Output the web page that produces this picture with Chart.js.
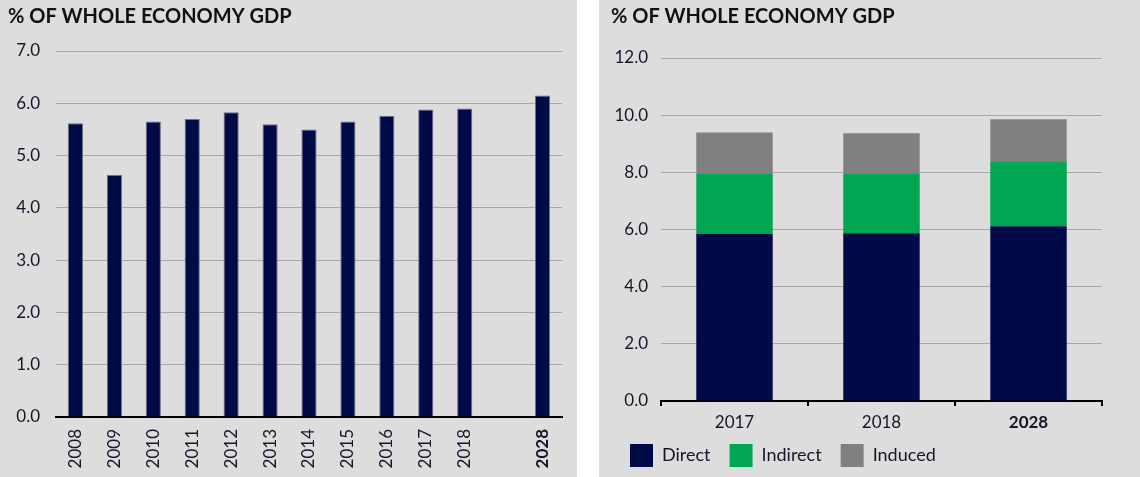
<!DOCTYPE html>
<html>
<head>
<meta charset="utf-8">
<script src="https://cdn.jsdelivr.net/npm/chart.js@4"></script>
<style>
  html, body { margin: 0; padding: 0; background: #fff; }
  body { width: 1140px; height: 477px; position: relative; overflow: hidden; }
  .panel { position: absolute; top: 0; height: 477px; background: #dddddd; }
  #p1 { left: 0; width: 577px; }
  #p2 { left: 599px; width: 541px; }
</style>
</head>
<body>
<div class="panel" id="p1"><canvas id="gdpChart" width="577" height="477"></canvas></div>
<div class="panel" id="p2"><canvas id="impactChart" width="541" height="477"></canvas></div>
<script>
const years = ['2008', '2009', '2010', '2011', '2012', '2013', '2014', '2015', '2016', '2017', '2018', '', '2028']
const gdpShare = [5.62, 4.63, 5.65, 5.70, 5.83, 5.60, 5.50, 5.65, 5.76, 5.88, 5.90, null, 6.15]

const impactYears = ['2017', '2018', '2028']
const direct = [5.85, 5.87, 6.11]
const indirect = [2.12, 2.10, 2.25]
const induced = [1.42, 1.40, 1.50]

const titleText = '% OF WHOLE ECONOMY GDP'
const navy = '#000a46'
const green = '#00a651'
const grey = '#808080'
const textColor = '#16162a'
const gridColor = '#a8a8a8'
const fontFamily = 'Lato, "Open Sans", sans-serif'

Chart.defaults.font.family = fontFamily
Chart.defaults.color = textColor
Chart.defaults.animation = false

const titleOpts = pad => ({
    display: true,
    text: titleText,
    align: 'start',
    color: '#111',
    font: { size: 20, weight: 'bold' },
    padding: pad
})

// the x labels sit a little below the (short) axis box, so let them draw past it
const labelRoom = {
    id: 'labelRoom',
    afterLayout: chart => { chart.scales.x.bottom = chart.height }
}

new Chart(document.getElementById('gdpChart'), {
    type: 'bar',
    data: {
        labels: years,
        datasets: [{
            data: gdpShare,
            backgroundColor: navy,
            borderColor: '#6f7088',
            borderWidth: 1,
            categoryPercentage: 1,
            barPercentage: 0.39
        }]
    },
    options: {
        responsive: false,
        layout: { padding: { left: 8, right: 15, top: 0, bottom: 0 } },
        plugins: {
            legend: { display: false },
            tooltip: { enabled: false },
            title: titleOpts({ top: 5, bottom: 22 })
        },
        scales: {
            x: {
                grid: { drawOnChartArea: false, drawTicks: false },
                border: { display: true, color: '#000', width: 2 },
                ticks: {
                    minRotation: 90,
                    maxRotation: 90,
                    padding: 12,
                    autoSkip: false,
                    font: ctx => ({ size: 17, weight: ctx.index === 12 ? 'bold' : 'normal' })
                },
                afterFit: scale => { scale.height = 60 }
            },
            y: {
                min: 0,
                max: 7,
                ticks: {
                    stepSize: 1,
                    padding: 16,
                    font: { size: 17 },
                    callback: v => v.toFixed(1)
                },
                grid: { color: gridColor, drawTicks: false },
                border: { display: false },
                afterFit: scale => { scale.width = 48 }
            }
        }
    }
})

new Chart(document.getElementById('impactChart'), {
    type: 'bar',
    data: {
        labels: impactYears,
        datasets: [
            { label: 'Direct', data: direct, backgroundColor: navy },
            { label: 'Indirect', data: indirect, backgroundColor: green },
            { label: 'Induced', data: induced, backgroundColor: grey }
        ]
    },
    options: {
        responsive: false,
        datasets: { bar: { categoryPercentage: 1, barPercentage: 0.52 } },
        layout: { padding: { left: 12, right: 38, top: 0, bottom: 0 } },
        plugins: {
            tooltip: { enabled: false },
            title: titleOpts({ top: 5, bottom: 29 }),
            legend: {
                position: 'bottom',
                align: 'start',
                labels: {
                    boxWidth: 23,
                    boxHeight: 23,
                    padding: 19,
                    color: textColor,
                    font: { size: 18 }
                }
            }
        },
        scales: {
            x: {
                stacked: true,
                grid: { drawOnChartArea: false, drawTicks: true, tickLength: 5, color: '#000', lineWidth: 2 },
                border: { display: true, color: '#000', width: 2 },
                ticks: {
                    padding: 6,
                    font: ctx => ({ size: 17, weight: ctx.index === 2 ? 'bold' : 'normal' })
                },
                afterFit: scale => { scale.height = 24 }
            },
            y: {
                stacked: true,
                min: 0,
                max: 12,
                ticks: {
                    stepSize: 2,
                    padding: 13,
                    font: { size: 17 },
                    callback: v => v.toFixed(1)
                },
                grid: { color: gridColor, drawTicks: false },
                border: { display: false },
                afterFit: scale => { scale.width = 50 }
            }
        }
    },
    plugins: [labelRoom]
})
</script>
</body>
</html>
